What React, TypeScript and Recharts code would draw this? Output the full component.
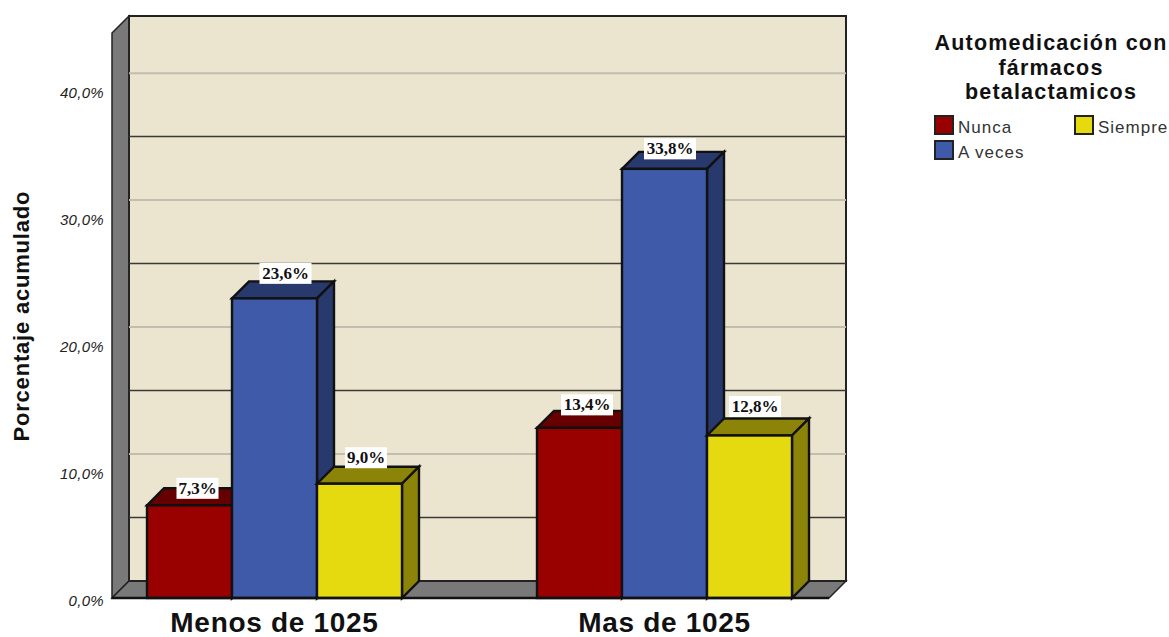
import React from "react";
import { BarChart, Bar, XAxis, YAxis, CartesianGrid, LabelList, Legend } from "recharts";

const categories = ["Menos de 1025", "Mas de 1025"];
const nunca = [7.3, 13.4];
const aVeces = [23.6, 33.8];
const siempre = [9.0, 12.8];
const yTicks = [0, 10, 20, 30, 40];
const gridValues = [5, 10, 15, 20, 25, 30, 35, 40];
const legendTitle = ["Automedicación con", "fármacos", "betalactamicos"];

const data = categories.map((c, i) => ({ c, nunca: nunca[i], aVeces: aVeces[i], siempre: siempre[i] }));

const D = 17;
const WALL = "#797979";
const BACK = "#ebe5d0";
const EDGE = "#222";
const SANS = "'Liberation Sans', Arial, sans-serif";
const SERIF = "'Liberation Serif', 'Times New Roman', serif";

const colors = {
  nunca: { front: "#990000", dark: "#660000" },
  aVeces: { front: "#3e5aa8", dark: "#28396e" },
  siempre: { front: "#e5d90f", dark: "#8c8408" },
};

const box3d = (c: { front: string; dark: string }) => (p: any) => {
  const { x, y, width: w, height: h } = p;
  return (
    <g stroke="#111" strokeWidth={2.4} strokeLinejoin="miter">
      <polygon points={`${x},${y} ${x + D},${y - D} ${x + w + D},${y - D} ${x + w},${y}`} fill={c.dark} />
      <polygon points={`${x + w},${y} ${x + w + D},${y - D} ${x + w + D},${y + h - D} ${x + w},${y + h}`} fill={c.dark} />
      <rect x={x} y={y} width={w} height={h} fill={c.front} />
    </g>
  );
};

const pctLabel = (nudge: [number, number][]) => (p: any) => {
  const { x, y, width, value, index } = p;
  const [dx, dy] = nudge[index];
  const cx = x + width / 2 + dx;
  const cy = y + dy;
  const text = `${Number(value).toFixed(1).replace(".", ",")}%`;
  const bw = text.length > 4 ? 52 : 42;
  return (
    <g>
      <rect x={cx - bw / 2} y={cy - 10.5} width={bw} height={21} fill="#fff" />
      <text x={cx} y={cy + 5.5} textAnchor="middle" fontFamily={SERIF} fontWeight="bold" fontSize={17} fill="#111">
        {text}
      </text>
    </g>
  );
};

// Draws the 3D room once behind the first gridline, then each gridline on the back wall.
const gridLine = (p: any) => {
  const { x1, x2, y1, index } = p;
  const plotBottom = 598;
  const plotTop = 33;
  const line = (
    <line
      x1={x1 + D}
      x2={x2 + D}
      y1={y1 - D}
      y2={y1 - D}
      stroke={index % 2 === 0 ? "#3a3a34" : "#c2bdae"}
      strokeWidth={index % 2 === 0 ? 1.5 : 2}
    />
  );
  if (index !== 0) return <g key={index}>{line}</g>;
  return (
    <g key={index}>
      <polygon
        points={`${x1},${plotTop} ${x1 + D},${plotTop - D} ${x1 + D},${plotBottom - D} ${x1},${plotBottom}`}
        fill={WALL}
        stroke={EDGE}
        strokeWidth={1.5}
      />
      <polygon
        points={`${x1},${plotBottom} ${x1 + D},${plotBottom - D} ${x2 + D},${plotBottom - D} ${x2},${plotBottom}`}
        fill={WALL}
        stroke={EDGE}
        strokeWidth={1.5}
      />
      <rect x={x1 + D} y={plotTop - D} width={x2 - x1} height={plotBottom - plotTop} fill={BACK} stroke={EDGE} strokeWidth={2} />
      {line}
    </g>
  );
};

const LegendBox = ({ payload }: any) => (
  <div style={{ fontFamily: SANS, color: "#111", width: 240 }}>
    <div style={{ fontWeight: "bold", fontSize: 21.5, lineHeight: "24.5px", textAlign: "center", letterSpacing: 1.2 }}>
      {legendTitle.map((t) => (
        <div key={t}>{t}</div>
      ))}
    </div>
    <div
      style={{
        display: "grid",
        gridTemplateRows: "25px 25px",
        gridTemplateColumns: "140px 100px",
        gridAutoFlow: "column",
        marginTop: 8,
        marginLeft: 3,
      }}
    >
      {(payload || []).map((e: any) => (
        <div key={e.value} style={{ display: "flex", alignItems: "center", fontSize: 17, letterSpacing: 1, color: "#333" }}>
          <span
            style={{
              display: "inline-block",
              boxSizing: "border-box",
              width: 20,
              height: 20,
              background: e.color,
              border: "2px solid #222",
              marginRight: 4,
            }}
          />
          <span style={{ position: "relative", top: 3 }}>{e.value}</span>
        </div>
      ))}
    </div>
  </div>
);

export default function App() {
  return (
    <div style={{ position: "absolute", left: 0, top: 0, width: 1169, height: 637, overflow: "hidden" }}>
      <BarChart
        width={1169}
        height={637}
        data={data}
        margin={{ top: 33, right: 340, bottom: 0, left: 0 }}
        barCategoryGap={67.5}
        barGap={0}
      >
        <CartesianGrid vertical={false} horizontal={gridLine} horizontalValues={gridValues} />
        <XAxis
          dataKey="c"
          height={39}
          padding={{ left: -32.5, right: -30.5 }}
          tickLine={false}
          axisLine={{ stroke: "#111", strokeWidth: 2.4 }}
          tick={{ fontFamily: SANS, fontWeight: "bold", fontSize: 28, letterSpacing: 0.7, fill: "#111", dy: 5 }}
          tickMargin={3}
          interval={0}
        />
        <YAxis
          width={112}
          domain={[0, 44.5]}
          ticks={yTicks}
          tickLine={false}
          axisLine={false}
          tickFormatter={(v: number) => `${v.toFixed(1).replace(".", ",")}%`}
          tick={{ fontFamily: SANS, fontStyle: "italic", fontSize: 15, letterSpacing: 0.3, fill: "#222", dy: 3 }}
          tickMargin={2}
          label={{
            value: "Porcentaje acumulado",
            angle: -90,
            position: "insideLeft",
            offset: 0,
            dx: 21.5,
            dy: 126,
            style: { fontFamily: SANS, fontWeight: "bold", fontSize: 22, letterSpacing: 0.8, fill: "#111" },
          }}
        />
        <Legend
          layout="horizontal"
          align="center"
          verticalAlign="middle"
          itemSorter={null}
          wrapperStyle={{ left: 931, top: 31, width: 240 }}
          content={LegendBox}
        />
        <Bar dataKey="nunca" name="Nunca" fill={colors.nunca.front} isAnimationActive={false} shape={box3d(colors.nunca)}>
          <LabelList dataKey="nunca" content={pctLabel([[8, -17], [7.5, -23]])} />
        </Bar>
        <Bar dataKey="aVeces" name="A veces" fill={colors.aVeces.front} isAnimationActive={false} shape={box3d(colors.aVeces)}>
          <LabelList dataKey="aVeces" content={pctLabel([[11, -25], [5.5, -20]])} />
        </Bar>
        <Bar dataKey="siempre" name="Siempre" fill={colors.siempre.front} isAnimationActive={false} shape={box3d(colors.siempre)}>
          <LabelList dataKey="siempre" content={pctLabel([[6.5, -26], [5.5, -29]])} />
        </Bar>
      </BarChart>
    </div>
  );
}
